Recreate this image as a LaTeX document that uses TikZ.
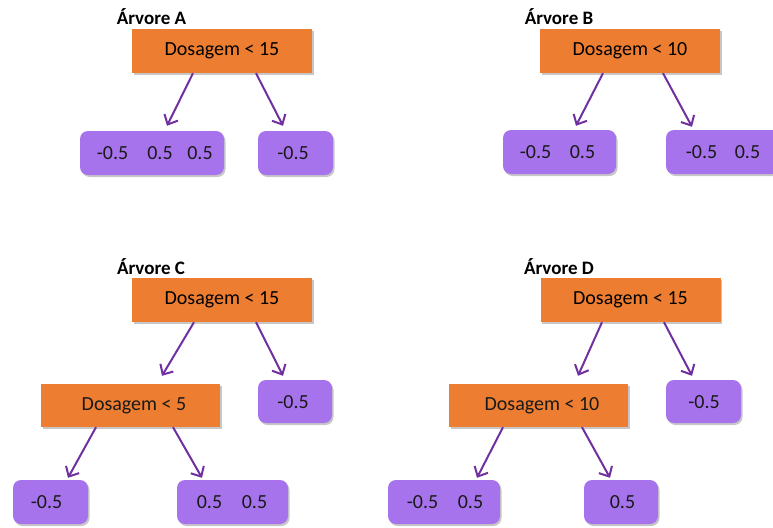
\documentclass[tikz,border=0pt]{standalone}
\usepackage{fontspec}
\setmainfont{Carlito}
\usetikzlibrary{arrows.meta,shadows,calc}
\definecolor{boxorange}{HTML}{ED7D31}
\definecolor{leafpurple}{HTML}{A673EC}
\definecolor{arrowpurple}{HTML}{7030A0}
\tikzset{
  shade/.style={drop shadow={shadow xshift=1.5pt,shadow yshift=-2pt,fill=black,opacity=0.22}},
  splitbox/.style={shade,fill=boxorange,draw=none,minimum width=180pt,minimum height=44pt,inner sep=0pt,font=\fontsize{20}{24}\selectfont},
  leafbox/.style={shade,fill=leafpurple,draw=none,rounded corners=8pt,minimum height=44pt,inner sep=0pt},
  val/.style={inner sep=0pt,font=\fontsize{20}{24}\selectfont,text=black!90},
  ttl/.style={inner sep=0pt,font=\fontsize{19}{22}\selectfont\bfseries},
  conn/.style={draw=arrowpurple,line width=2pt,-{Straight Barb[length=8pt,width=15pt,line width=2pt]}},
}
\begin{document}
\begin{tikzpicture}[x=1pt,y=-1pt]
\useasboundingbox (0,0) rectangle (773,527);
\clip (0,0) rectangle (773,527);
% ---------------- Tree A
\node[ttl] (tA) at (151.5,17) {Árvore A};
\node[splitbox] (rA) at (222,51) {Dosagem < 15};
\node[leafbox,minimum width=144pt] (aL) at (152,153) {};
\node[leafbox,minimum width=75pt] (aR) at (295.5,153) {};
\node[val] (aL1) at (112.5,153) {-0.5};
\node[val] (aL2) at (160,153) {0.5};
\node[val] (aL3) at (200,153) {0.5};
\node[val] (aR1) at (293,153) {-0.5};
\draw[conn] ($(rA.south)+(-29,0)$) -- ($(aL.north)+(15,-5)$);
\draw[conn] ($(rA.south)+(34,0)$) -- ($(aR.north)+(-12.5,-5)$);
% ---------------- Tree B
\node[ttl] (tB) at (559,17) {Árvore B};
\node[splitbox] (rB) at (630,51) {Dosagem < 10};
\node[leafbox,minimum width=113pt] (bL) at (559.5,152) {};
\node[leafbox,minimum width=114pt] (bR) at (723,152) {};
\node[val] (bL1) at (535.5,152) {-0.5};
\node[val] (bL2) at (582.5,152) {0.5};
\node[val] (bR1) at (701.5,152) {-0.5};
\node[val] (bR2) at (747.5,152) {0.5};
\draw[conn] ($(rB.south)+(-27,0)$) -- ($(bL.north)+(16.5,-4)$);
\draw[conn] ($(rB.south)+(33,0)$) -- ($(bR.north)+(-31,-3)$);
% ---------------- Tree C
\node[ttl] (tC) at (151,267) {Árvore C};
\node[splitbox] (rC) at (222,300) {Dosagem < 15};
\node[splitbox,minimum width=179pt,minimum height=43pt] (mC) at (130.5,405.5) {};
\node[val] (mCt) at (134,406) {Dosagem < 5};
\node[leafbox,minimum width=74pt,minimum height=43pt] (cR) at (295,401.5) {};
\node[val] (cR1) at (293,402) {-0.5};
\node[leafbox,minimum width=75pt] (cBL) at (50.5,502) {};
\node[leafbox,minimum width=111pt] (cBR) at (232.5,502) {};
\node[val] (cBL1) at (46.5,502) {-0.5};
\node[val] (cBR1) at (209.5,502) {0.5};
\node[val] (cBR2) at (254.5,502) {0.5};
\draw[conn] ($(rC.south)+(-28,0)$) -- ($(mC.north)+(31.5,-8)$);
\draw[conn] ($(rC.south)+(34,0)$) -- ($(cR.north)+(-12,-4)$);
\draw[conn] ($(mC.south)+(-34.5,0)$) -- ($(cBL.north)+(17.5,-2)$);
\draw[conn] ($(mC.south)+(42.5,0)$) -- ($(cBR.north)+(-30.5,-2)$);
% ---------------- Tree D
\node[ttl] (tD) at (559,267) {Árvore D};
\node[splitbox] (rD) at (630.5,300) {Dosagem < 15};
\node[splitbox,minimum width=179pt,minimum height=43pt] (mD) at (538.5,405.5) {};
\node[val] (mDt) at (542,406) {Dosagem < 10};
\node[leafbox,minimum width=75pt,minimum height=43pt] (dR) at (703.5,401.5) {};
\node[val] (dR1) at (704,402) {-0.5};
\node[leafbox,minimum width=112pt] (dBL) at (444,502) {};
\node[leafbox,minimum width=74pt] (dBR) at (621,502) {};
\node[val] (dBL1) at (422.5,502) {-0.5};
\node[val] (dBL2) at (470.5,502) {0.5};
\node[val] (dBR1) at (622.5,502) {0.5};
\draw[conn] ($(rD.south)+(-28.5,0)$) -- ($(mD.north)+(39.5,-8)$);
\draw[conn] ($(rD.south)+(33.5,0)$) -- ($(dR.north)+(-11.5,-4)$);
\draw[conn] ($(mD.south)+(-35.5,0)$) -- ($(dBL.north)+(33,-2)$);
\draw[conn] ($(mD.south)+(43.5,0)$) -- ($(dBR.north)+(-11,-2)$);
\end{tikzpicture}
\end{document}
